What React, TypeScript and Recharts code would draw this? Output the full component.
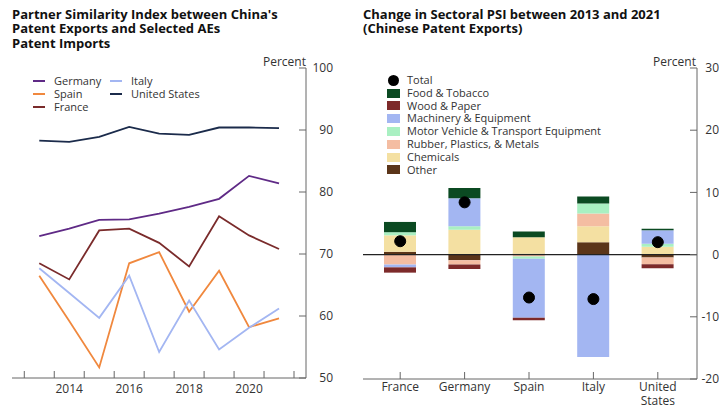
import React from 'react';
import {
  LineChart,
  Line,
  ComposedChart,
  Bar,
  XAxis,
  YAxis,
  ReferenceLine,
} from 'recharts';

// Left panel: partner similarity index
const years = [2013, 2014, 2015, 2016, 2017, 2018, 2019, 2020, 2021];
const germany = [72.9, 74.1, 75.5, 75.6, 76.5, 77.6, 78.9, 82.6, 81.4];
const spain = [66.5, 59.2, 51.7, 68.5, 70.3, 60.7, 67.3, 58.2, 59.6];
const france = [68.5, 65.9, 73.8, 74.1, 71.8, 68.0, 76.1, 73.0, 70.8];
const italy = [67.7, 63.7, 59.7, 66.5, 54.2, 62.5, 54.6, 58.1, 61.2];
const unitedStates = [88.3, 88.1, 88.9, 90.5, 89.4, 89.2, 90.4, 90.4, 90.3];

const yearTickMarks = [2012.5, 2013.5, 2014.5, 2015.5, 2016.5, 2017.5, 2018.5, 2019.5, 2020.5, 2021.5];
const yearLabels = [2014, 2016, 2018, 2020];
const psiTicks = [50, 60, 70, 80, 90, 100];

// Right panel: change in sectoral PSI, 2013-2021
const countries = ['France', 'Germany', 'Spain', 'Italy', 'United States'];
const other = [0.45, -0.9, 0.15, 2.0, -0.45];
const chemicals = [2.65, 4.0, 2.65, 2.55, 1.25];
const rubber = [-1.6, -0.7, -0.3, 2.05, -1.1];
const motor = [0.5, 0.55, -0.35, 1.6, 0.5];
const machinery = [-0.45, 4.5, -9.5, -16.45, 2.15];
const wood = [-0.85, -0.7, -0.4, 0, -0.65];
const food = [1.65, 1.65, 0.9, 1.15, 0.25];
const totals = [2.15, 8.4, -6.9, -7.15, 2.0];
const changeTicks = [-20, -10, 0, 10, 20, 30];

const lineSeries = [
  { key: 'germany', label: 'Germany', color: '#5f2a86', values: germany },
  { key: 'spain', label: 'Spain', color: '#f0883e', values: spain },
  { key: 'france', label: 'France', color: '#7a2b2b', values: france },
  { key: 'italy', label: 'Italy', color: '#a3b6f2', values: italy },
  { key: 'us', label: 'United States', color: '#1b2b4b', values: unitedStates },
];

const sectors = [
  { key: 'other', label: 'Other', color: '#5b3519', values: other },
  { key: 'chemicals', label: 'Chemicals', color: '#f4e0a2', values: chemicals },
  { key: 'rubber', label: 'Rubber, Plastics, & Metals', color: '#f4bda2', values: rubber },
  { key: 'motor', label: 'Motor Vehicle & Transport Equipment', color: '#a9f0c2', values: motor },
  { key: 'machinery', label: 'Machinery & Equipment', color: '#a3b6f2', values: machinery },
  { key: 'wood', label: 'Wood & Paper', color: '#7d2a2a', values: wood },
  { key: 'food', label: 'Food & Tobacco', color: '#0b4a22', values: food },
];
const legendOrder = ['food', 'wood', 'machinery', 'motor', 'rubber', 'chemicals', 'other'];

const psiRows = years.map((year, i) => {
  const row: Record<string, number> = { year };
  lineSeries.forEach((s) => (row[s.key] = s.values[i]));
  return row;
});

const changeRows = countries.map((name, i) => {
  const row: Record<string, number | string> = { name, total: totals[i] };
  sectors.forEach((s) => (row[s.key] = s.values[i]));
  return row;
});

const FONT = "'Open Sans', sans-serif";
const AXIS = '#666';
const TEXT = '#333';

const YearTick = (props: any) => {
  const { x, y, payload } = props;
  const v = payload.value;
  if (v % 1 !== 0) return <line x1={x} y1={y} x2={x} y2={y - 7} stroke={AXIS} />;
  return (
    <text x={x} y={y + 15} textAnchor="middle" fill={TEXT} fontSize={12}>
      {v}
    </text>
  );
};

const CountryTick = (props: any) => {
  const { x, y, payload } = props;
  const words = String(payload.value).split(' ');
  return (
    <text x={x} y={y} textAnchor="middle" fill={TEXT} fontSize={12}>
      {words.map((w, i) => (
        <tspan key={w} x={x} dy={i === 0 ? 12 : 13.5}>
          {w}
        </tspan>
      ))}
    </text>
  );
};

const title: React.CSSProperties = {
  position: 'absolute',
  top: 7,
  fontWeight: 700,
  fontSize: 13,
  lineHeight: '14.4px',
  color: '#111',
  whiteSpace: 'nowrap',
};

export default function App() {
  return (
    <div
      style={{
        position: 'absolute',
        left: 0,
        top: 0,
        width: 719,
        height: 407,
        background: '#fff',
        fontFamily: FONT,
        overflow: 'hidden',
      }}
    >
      <div style={{ ...title, left: 12 }}>
        Partner Similarity Index between China's
        <br />
        Patent Exports and Selected AEs
        <br />
        Patent Imports
      </div>
      <div style={{ ...title, left: 363 }}>
        Change in Sectoral PSI between 2013 and 2021
        <br />
        (Chinese Patent Exports)
      </div>
      <div style={{ position: 'absolute', left: 263, top: 53, fontSize: 12, color: TEXT }}>Percent</div>
      <div style={{ position: 'absolute', left: 653, top: 53, fontSize: 12, color: TEXT }}>Percent</div>

      <div style={{ position: 'absolute', left: 0, top: 0 }}>
        <LineChart width={360} height={407} data={psiRows} margin={{ top: 68, right: 0, left: 12, bottom: 0 }}>
          <XAxis
            type="number"
            dataKey="year"
            domain={[2012.09, 2021.9]}
            ticks={[...yearTickMarks, ...yearLabels].sort((a, b) => a - b)}
            interval={0}
            tickLine={false}
            tickSize={0}
            tickMargin={0}
            height={29}
            stroke={AXIS}
            tick={<YearTick />}
            allowDataOverflow
          />
          <YAxis
            yAxisId="r"
            orientation="right"
            domain={[50, 100]}
            ticks={psiTicks}
            interval={0}
            width={54}
            tickSize={-7}
            tickMargin={34}
            stroke={AXIS}
            tick={{ textAnchor: 'end', fill: TEXT, fontSize: 12 }}
          />
          <YAxis
            yAxisId="l"
            orientation="left"
            domain={[50, 100]}
            ticks={psiTicks}
            width={0}
            tick={false}
            tickSize={-7}
            stroke={AXIS}
          />
          {lineSeries.map((s) => (
            <Line
              key={s.key}
              yAxisId="r"
              type="linear"
              dataKey={s.key}
              stroke={s.color}
              strokeWidth={1.8}
              dot={false}
              isAnimationActive={false}
            />
          ))}
        </LineChart>
      </div>

      {/* left legend */}
      <div style={{ position: 'absolute', left: 33, top: 74, fontSize: 11, color: TEXT, lineHeight: '13px' }}>
        {lineSeries.map((s, i) => (
          <div
            key={s.key}
            style={{
              position: 'absolute',
              left: i < 3 ? 0 : 77,
              top: (i < 3 ? i : i - 3) * 13,
              display: 'flex',
              alignItems: 'center',
              whiteSpace: 'nowrap',
            }}
          >
            <span style={{ display: 'inline-block', width: 12, height: 2, background: s.color, marginRight: 9 }} />
            {s.label}
          </div>
        ))}
      </div>

      <div style={{ position: 'absolute', left: 360, top: 0 }}>
        <ComposedChart
          width={359}
          height={407}
          data={changeRows}
          stackOffset="sign"
          margin={{ top: 68, right: 0, left: 3, bottom: 0 }}
        >
          <XAxis
            dataKey="name"
            height={28}
            padding={{ left: 5, right: 7 }}
            interval={0}
            tickSize={-7}
            tickMargin={7}
            stroke={AXIS}
            tick={<CountryTick />}
          />
          <YAxis
            yAxisId="r"
            orientation="right"
            domain={[-20, 30]}
            ticks={changeTicks}
            interval={0}
            width={22}
            tickSize={-7}
            tickMargin={29}
            stroke={AXIS}
            tick={{ textAnchor: 'end', fill: TEXT, fontSize: 12 }}
          />
          <YAxis
            yAxisId="l"
            orientation="left"
            domain={[-20, 30]}
            ticks={changeTicks}
            width={0}
            tick={false}
            tickSize={-7}
            stroke={AXIS}
          />
          {sectors.map((s) => (
            <Bar
              key={s.key}
              yAxisId="r"
              dataKey={s.key}
              stackId="a"
              fill={s.color}
              barSize={32}
              isAnimationActive={false}
            />
          ))}
          <ReferenceLine yAxisId="r" y={0} stroke="#222" strokeWidth={1.4} />
          <Line
            yAxisId="r"
            dataKey="total"
            stroke="none"
            dot={{ r: 5.5, fill: '#000', stroke: '#000' }}
            activeDot={false}
            isAnimationActive={false}
          />
        </ComposedChart>
      </div>

      {/* right legend */}
      <div style={{ position: 'absolute', left: 387, top: 74, fontSize: 11, color: TEXT, lineHeight: '12.8px' }}>
        <div style={{ display: 'flex', alignItems: 'center', height: 12.8, whiteSpace: 'nowrap' }}>
          <span
            style={{ display: 'inline-block', width: 11, height: 11, borderRadius: '50%', background: '#000', margin: '0 8px 0 1px' }}
          />
          Total
        </div>
        {legendOrder.map((k) => {
          const s = sectors.find((x) => x.key === k)!;
          return (
            <div key={k} style={{ display: 'flex', alignItems: 'center', height: 12.8, whiteSpace: 'nowrap' }}>
              <span style={{ display: 'inline-block', width: 13, height: 9, background: s.color, marginRight: 7 }} />
              {s.label}
            </div>
          );
        })}
      </div>
    </div>
  );
}
